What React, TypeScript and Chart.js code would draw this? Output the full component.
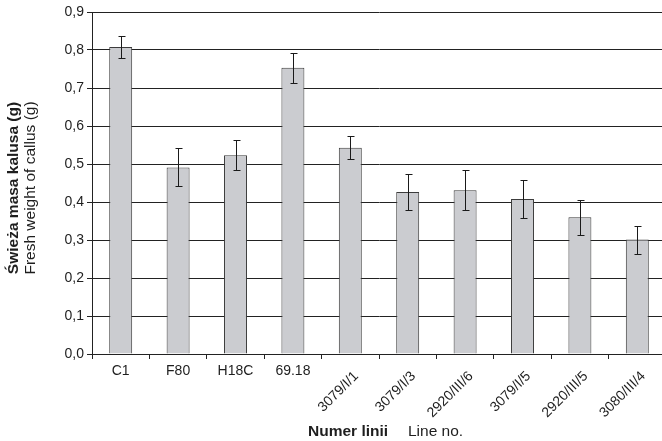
import React, { useEffect, useRef } from "react";
import { Chart, registerables } from "chart.js";

Chart.register(...registerables);

const categories = ["C1", "F80", "H18C", "69.18", "3079/I/1", "3079/I/3", "2920/III/6", "3079/I/5", "2920/III/5", "3080/III/4"];
const values = [0.808, 0.491, 0.523, 0.753, 0.543, 0.426, 0.431, 0.408, 0.36, 0.301];
const errors = [0.03, 0.05, 0.04, 0.04, 0.03, 0.048, 0.053, 0.051, 0.046, 0.037];
const yTicks = [0, 0.1, 0.2, 0.3, 0.4, 0.5, 0.6, 0.7, 0.8, 0.9];
const yTitleBold = "Świeża masa kalusa (g)";
const yTitleNormal = "Fresh weight of callus (g)";
const xTitleBold = "Numer linii";
const xTitleNormal = "Line no.";

const FONT = "'Liberation Sans', Arial, sans-serif";

const errorBarPlugin = {
  id: "errorBars",
  afterDatasetsDraw(chart: any) {
    const ctx = chart.ctx;
    const meta = chart.getDatasetMeta(0);
    const y = chart.scales.y;
    ctx.save();
    ctx.strokeStyle = "#1a1a1a";
    ctx.lineWidth = 1;
    meta.data.forEach((bar: any, i: number) => {
      const x = Math.round(bar.x) + 0.5;
      const top = Math.round(y.getPixelForValue(values[i] + errors[i])) + 0.5;
      const bot = Math.round(y.getPixelForValue(values[i] - errors[i])) + 0.5;
      ctx.beginPath();
      ctx.moveTo(x, top);
      ctx.lineTo(x, bot);
      ctx.moveTo(x - 3, top);
      ctx.lineTo(x + 4, top);
      ctx.moveTo(x - 3, bot);
      ctx.lineTo(x + 4, bot);
      ctx.stroke();
    });
    ctx.restore();
  },
};

const labelsPlugin = {
  id: "customLabels",
  afterDraw(chart: any) {
    const ctx = chart.ctx;
    const xs = chart.scales.x;
    const area = chart.chartArea;
    ctx.save();
    ctx.fillStyle = "#1e1e1e";
    ctx.font = `14px ${FONT}`;
    categories.forEach((c, i) => {
      const cx = xs.getPixelForValue(i);
      if (i < 4) {
        ctx.textAlign = "center";
        ctx.textBaseline = "alphabetic";
        ctx.fillText(c, cx, area.bottom + 21);
      } else {
        ctx.save();
        ctx.translate(cx + 1, area.bottom + 15);
        ctx.rotate(-Math.PI / 4);
        ctx.textAlign = "right";
        ctx.textBaseline = "top";
        ctx.fillText(c, 0, 0);
        ctx.restore();
      }
    });
    // x title
    ctx.textAlign = "left";
    ctx.textBaseline = "alphabetic";
    ctx.font = `bold 15.5px ${FONT}`;
    ctx.fillText(xTitleBold, 308, 436);
    ctx.font = `15.5px ${FONT}`;
    ctx.fillText(xTitleNormal, 408, 436);
    // y title
    ctx.save();
    ctx.translate(14, 188);
    ctx.rotate(-Math.PI / 2);
    ctx.textAlign = "center";
    ctx.textBaseline = "middle";
    ctx.font = `bold 15.5px ${FONT}`;
    ctx.fillText(yTitleBold, 0, 0);
    ctx.font = `15.5px ${FONT}`;
    ctx.fillText(yTitleNormal, 0, 17);
    ctx.restore();
    ctx.restore();
  },
};

export default function App() {
  const ref = useRef<HTMLCanvasElement>(null);
  useEffect(() => {
    if (!ref.current) return;
    const chart = new Chart(ref.current, {
      type: "bar",
      data: {
        labels: categories,
        datasets: [
          {
            data: values,
            backgroundColor: "#cbccd0",
            borderColor: "#3c3c3c",
            borderWidth: 1,
            barPercentage: 0.4,
            categoryPercentage: 1,
          },
        ],
      },
      options: {
        animation: false,
        responsive: false,
        layout: { padding: { top: 12, right: 4, left: 0, bottom: 0 } },
        plugins: { legend: { display: false }, tooltip: { enabled: false } },
        scales: {
          x: {
            ticks: { display: false },
            grid: {
              display: true,
              drawOnChartArea: false,
              offset: true,
              drawTicks: true,
              tickLength: 5,
              color: "#222",
            },
            border: { display: true, color: "#222", width: 1 },
            afterFit(scale: any) {
              scale.height = 87;
            },
          },
          y: {
            min: 0,
            max: 0.9,
            afterBuildTicks(scale: any) {
              scale.ticks = yTicks.map((v) => ({ value: v }));
            },
            ticks: {
              font: { family: FONT, size: 14 },
              color: "#1e1e1e",
              padding: 3,
              callback: (v: any) => Number(v).toFixed(1).replace(".", ","),
            },
            grid: { color: "#222", lineWidth: 1, tickLength: 5, drawTicks: true },
            border: { display: true, color: "#222", width: 1 },
            afterFit(scale: any) {
              scale.width = 92;
            },
          },
        },
      },
      plugins: [errorBarPlugin, labelsPlugin],
    });
    return () => chart.destroy();
  }, []);
  return (
    <div style={{ position: "fixed", left: 0, top: 0, width: 662, height: 441, overflow: "hidden", background: "#fff" }}>
      <canvas ref={ref} width={670} height={441} style={{ display: "block" }} />
    </div>
  );
}
